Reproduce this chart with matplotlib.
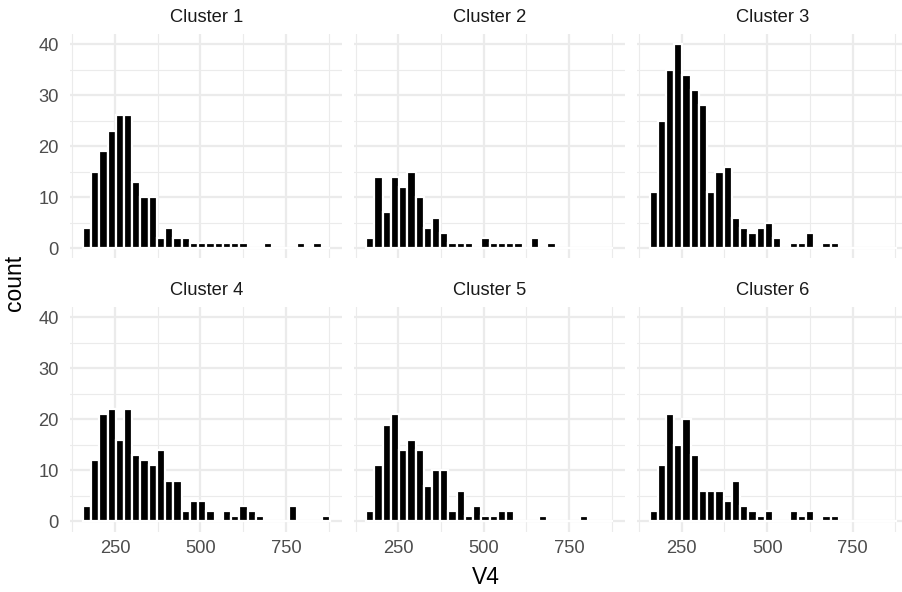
import numpy as np
import matplotlib
matplotlib.use("Agg")
from matplotlib import pyplot as plt
from matplotlib.ticker import MultipleLocator

plt.rcParams["font.family"] = ["Liberation Sans", "DejaVu Sans"]

# histogram of V4, 30 bins shared by all clusters
bin_edges = np.linspace(156.0, 878.5, 31)

cluster_names = ["Cluster 1", "Cluster 2", "Cluster 3",
                 "Cluster 4", "Cluster 5", "Cluster 6"]

counts_1 = [4, 15, 19, 23, 26, 26, 13, 10, 10, 2, 4, 2, 2, 1, 1,
            1, 1, 1, 1, 1, 0, 0, 1, 0, 0, 0, 1, 0, 1, 0]
counts_2 = [2, 14, 7, 14, 12, 15, 10, 4, 6, 3, 1, 1, 1, 0, 2,
            1, 1, 1, 1, 0, 2, 0, 1, 0, 0, 0, 0, 0, 0, 0]
counts_3 = [11, 25, 35, 40, 34, 31, 28, 11, 15, 16, 6, 4, 3, 4, 5,
            2, 0, 1, 1, 3, 0, 1, 1, 0, 0, 0, 0, 0, 0, 0]
counts_4 = [3, 12, 21, 22, 16, 22, 13, 12, 11, 14, 8, 8, 2, 4, 4,
            2, 0, 2, 1, 3, 2, 1, 0, 0, 0, 3, 0, 0, 0, 1]
counts_5 = [2, 11, 19, 21, 14, 16, 14, 7, 10, 10, 2, 6, 1, 3, 1,
            1, 2, 2, 0, 0, 0, 1, 0, 0, 0, 0, 1, 0, 0, 0]
counts_6 = [2, 11, 21, 15, 20, 13, 6, 6, 6, 4, 8, 3, 2, 1, 2,
            0, 0, 2, 1, 2, 0, 1, 1, 0, 0, 0, 0, 0, 0, 0]
all_counts = [counts_1, counts_2, counts_3, counts_4, counts_5, counts_6]

x_ticks = [250, 500, 750]
y_ticks = [0, 10, 20, 30, 40]

W, H = 903, 592
fig = plt.figure(figsize=(W / 100, H / 100), dpi=100)

panel_w, panel_h = 271.7, 224.6
lefts = [70.5, 353.8, 637.2]
tops = [33.8, 307.1]

span = bin_edges[-1] - bin_edges[0]
xlim = (bin_edges[0] - 0.05 * span, bin_edges[-1] + 0.05 * span)

grid_major = "#EBEBEB"
for i, (name, counts) in enumerate(zip(cluster_names, all_counts)):
    row, col = divmod(i, 3)
    ax = fig.add_axes([lefts[col] / W, 1 - (tops[row] + panel_h) / H,
                       panel_w / W, panel_h / H])
    ax.bar(bin_edges[:-1], counts, width=np.diff(bin_edges), align="edge",
           color="black", edgecolor="white", linewidth=1.6, zorder=3)
    ax.set_xlim(*xlim)
    ax.set_ylim(-2, 42)

    ax.xaxis.set_major_locator(MultipleLocator(250))
    ax.xaxis.set_minor_locator(MultipleLocator(125))
    ax.yaxis.set_major_locator(MultipleLocator(10))
    ax.yaxis.set_minor_locator(MultipleLocator(5))
    ax.grid(which="major", color=grid_major, linewidth=1.6)
    ax.grid(which="minor", color=grid_major, linewidth=0.8)
    ax.set_axisbelow(True)
    for s in ax.spines.values():
        s.set_visible(False)
    ax.tick_params(which="both", length=0, labelsize=13.2,
                   labelcolor="#4D4D4D")
    ax.tick_params(axis="y", pad=8.5)
    ax.tick_params(axis="x", pad=6)
    ax.set_xticks(x_ticks)
    ax.set_yticks(y_ticks)
    if col != 0:
        ax.tick_params(axis="y", labelleft=False)
    if row != 1:
        ax.tick_params(axis="x", labelbottom=False)

    ax.annotate(name, xy=(0.5, 1), xycoords="axes fraction",
                xytext=(0, 12), textcoords="offset points",
                ha="center", va="center", fontsize=13.2, color="#1A1A1A")

fig.text(15 / W, 1 - 283 / H, "count", rotation=90, ha="center",
         va="center", fontsize=16.5)
fig.text(486 / W, 1 - 578 / H, "V4", ha="center", va="center",
         fontsize=16.5)

fig.savefig("out.png", dpi=100, facecolor="white")
